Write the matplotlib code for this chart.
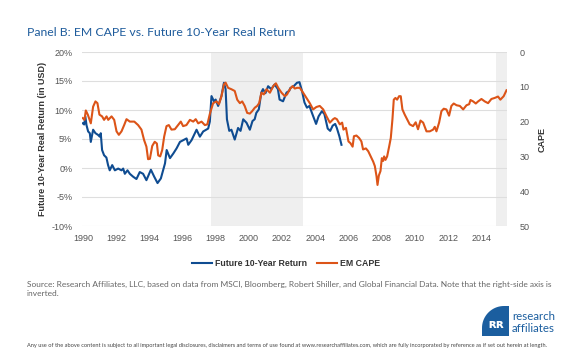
import numpy as np
import matplotlib
matplotlib.use("Agg")
import matplotlib.pyplot as plt
from matplotlib.patches import PathPatch
from matplotlib.path import Path
from matplotlib.ticker import FuncFormatter

# Future 10-year real return (left axis, %)
ret_years = [1990.0, 1990.08, 1990.15, 1990.22, 1990.32, 1990.42, 1990.48, 1990.62, 1990.76, 1990.92,
             1991.02, 1991.08, 1991.16, 1991.28, 1991.42, 1991.52, 1991.62, 1991.77, 1991.93, 1992.13,
             1992.33, 1992.43, 1992.53, 1992.69, 1992.83, 1993.03, 1993.23, 1993.43, 1993.63, 1993.83,
             1994.1, 1994.3, 1994.5, 1994.7, 1994.95, 1995.05, 1995.25, 1995.45, 1995.65, 1995.85,
             1996.05, 1996.25, 1996.35, 1996.55, 1996.85, 1997.05, 1997.25, 1997.55, 1997.65, 1997.75,
             1997.9, 1998.0, 1998.15, 1998.35, 1998.5, 1998.6, 1998.68, 1998.82, 1998.95, 1999.15,
             1999.35, 1999.5, 1999.66, 1999.86, 2000.06, 2000.22, 2000.35, 2000.45, 2000.6, 2000.75,
             2000.85, 2001.0, 2001.16, 2001.35, 2001.55, 2001.75, 2001.85, 2002.06, 2002.27, 2002.43,
             2002.5, 2002.7, 2002.9, 2003.05, 2003.2, 2003.35, 2003.5, 2003.65, 2003.8, 2004.05,
             2004.2, 2004.4, 2004.55, 2004.75, 2004.9, 2005.05, 2005.2, 2005.3, 2005.45, 2005.58]
ret_values = [7.7, 7.5, 8.9, 7.4, 6.3, 6.0, 4.5, 6.6, 6.0, 5.7,
              5.4, 6.0, 3.1, 2.2, 1.8, 0.5, -0.4, 0.5, -0.4, -0.1,
              -0.4, -0.1, -1.0, -0.4, -1.0, -1.5, -1.9, -0.7, -1.0, -2.1,
              -0.3, -1.5, -2.6, -1.8, 0.8, 3.1, 1.7, 2.5, 3.4, 4.5,
              4.8, 5.1, 4.0, 4.8, 6.6, 5.4, 6.3, 6.8, 8.0, 12.4,
              11.5, 11.8, 10.7, 12.4, 14.7, 13.6, 8.4, 6.4, 6.6, 4.9,
              6.9, 6.4, 8.4, 7.8, 6.6, 8.1, 8.4, 9.5, 10.1, 13.0,
              13.6, 12.9, 14.1, 13.6, 14.4, 13.6, 11.8, 11.5, 13.0, 13.3,
              13.8, 14.1, 14.7, 14.8, 13.3, 11.3, 10.4, 10.7, 9.5, 7.6,
              8.9, 9.8, 9.3, 6.8, 6.4, 7.3, 7.6, 6.9, 5.5, 4.0]

# EM CAPE (right axis, inverted)
cape_years = [1990.0, 1990.1, 1990.18, 1990.3, 1990.48, 1990.62, 1990.76, 1990.88, 1991.0, 1991.16,
              1991.28, 1991.43, 1991.53, 1991.73, 1991.89, 1992.03, 1992.17, 1992.33, 1992.49, 1992.63,
              1992.83, 1993.1, 1993.33, 1993.53, 1993.69, 1993.83, 1993.93, 1994.04, 1994.18, 1994.33,
              1994.46, 1994.54, 1994.66, 1994.78, 1994.9, 1995.04, 1995.18, 1995.34, 1995.54, 1995.74,
              1995.9, 1996.04, 1996.24, 1996.45, 1996.65, 1996.8, 1996.95, 1997.15, 1997.35, 1997.5,
              1997.65, 1997.85, 1998.05, 1998.2, 1998.35, 1998.5, 1998.6, 1998.75, 1998.95, 1999.15,
              1999.3, 1999.46, 1999.6, 1999.75, 1999.9, 2000.06, 2000.2, 2000.36, 2000.5, 2000.62,
              2000.76, 2000.9, 2001.06, 2001.27, 2001.47, 2001.63, 2001.77, 2001.97, 2002.17, 2002.3,
              2002.47, 2002.63, 2002.77, 2002.9, 2003.07, 2003.27, 2003.47, 2003.67, 2003.87, 2004.07,
              2004.27, 2004.48, 2004.68, 2004.88, 2005.08, 2005.18, 2005.3, 2005.48, 2005.62, 2005.7,
              2005.85, 2006.0, 2006.12, 2006.25, 2006.33, 2006.48, 2006.64, 2006.78, 2006.88, 2007.05,
              2007.19, 2007.34, 2007.49, 2007.59, 2007.69, 2007.75, 2007.83, 2007.93, 2008.01, 2008.09,
              2008.15, 2008.23, 2008.33, 2008.45, 2008.55, 2008.65, 2008.73, 2008.83, 2008.93, 2009.05,
              2009.15, 2009.25, 2009.39, 2009.53, 2009.69, 2009.89, 2010.05, 2010.19, 2010.34, 2010.5,
              2010.7, 2010.9, 2011.1, 2011.2, 2011.3, 2011.46, 2011.6, 2011.74, 2011.9, 2012.06,
              2012.2, 2012.34, 2012.51, 2012.71, 2012.91, 2013.11, 2013.27, 2013.35, 2013.51, 2013.67,
              2013.81, 2014.01, 2014.21, 2014.41, 2014.61, 2014.81, 2015.01, 2015.15, 2015.35, 2015.52]
cape_values = [19.0, 19.5, 16.8, 18.0, 20.5, 15.7, 14.2, 14.7, 18.0, 18.5,
               19.5, 18.5, 19.5, 18.5, 19.5, 22.8, 23.8, 22.8, 21.0, 19.3,
               20.0, 20.0, 21.0, 22.3, 25.3, 27.2, 30.8, 30.7, 27.0, 25.8,
               26.3, 29.7, 30.0, 28.2, 24.3, 21.3, 21.0, 22.3, 22.2, 21.0,
               20.0, 21.3, 21.0, 19.5, 20.0, 19.3, 20.5, 20.0, 21.0, 20.8,
               17.8, 14.7, 14.2, 15.0, 12.7, 9.3, 8.8, 10.3, 10.7, 11.2,
               13.7, 14.7, 14.2, 15.5, 17.5, 17.7, 17.0, 16.0, 15.5, 14.7,
               11.7, 12.2, 10.7, 11.7, 9.8, 9.0, 10.3, 11.7, 12.7, 12.2,
               10.7, 9.8, 10.5, 10.3, 10.3, 11.7, 13.2, 14.7, 16.5, 15.8,
               15.5, 16.5, 18.5, 20.3, 19.3, 19.0, 19.3, 20.8, 20.3, 22.3,
               21.8, 25.7, 26.2, 27.2, 24.2, 24.0, 24.7, 25.7, 28.0, 27.7,
               28.5, 30.0, 31.5, 32.8, 35.7, 38.2, 35.5, 34.2, 30.5, 31.3,
               30.0, 31.0, 30.0, 27.2, 24.7, 19.3, 13.7, 13.2, 13.7, 12.7,
               12.7, 16.5, 18.0, 19.3, 20.8, 21.3, 20.2, 22.2, 19.7, 20.3,
               22.8, 22.8, 22.3, 21.5, 22.8, 20.3, 17.0, 16.3, 16.5, 18.3,
               15.5, 14.8, 15.3, 15.5, 16.5, 15.3, 15.0, 13.8, 14.2, 14.8,
               14.2, 13.5, 14.2, 14.7, 13.5, 13.2, 12.8, 13.7, 12.7, 11.0]

shaded_periods = [(1997.7, 2003.25), (2014.9, 2015.6)]
year_ticks = list(range(1990, 2015, 2))
ret_ticks = [-10, -5, 0, 5, 10, 15, 20]
cape_ticks = [0, 10, 20, 30, 40, 50]

blue = "#0f4c91"
orange = "#dc5418"
grey_txt = "#555555"

plt.rcParams["font.family"] = ["Liberation Sans", "DejaVu Sans"]

fig = plt.figure(figsize=(5.8, 3.56), dpi=100)
ax = fig.add_axes([82 / 580, 1 - 226 / 356, 425 / 580, 174 / 356])
ax2 = ax.twinx()

for start, end in shaded_periods:
    ax.axvspan(start, end, color="#efefef", lw=0, zorder=0)

for t in ret_ticks:
    ax.axhline(t, color="#dedede", lw=0.8, zorder=1)

line_ret, = ax.plot(ret_years, ret_values, color=blue, lw=1.5, zorder=3)
line_cape, = ax2.plot(cape_years, cape_values, color=orange, lw=1.5, zorder=3)

ax.set_xlim(1989.95, 2015.55)
ax.set_ylim(-10, 20)
ax.set_yticks(ret_ticks)
ax.yaxis.set_major_formatter(FuncFormatter(lambda v, p: "%d%%" % v))
ax.set_xticks(year_ticks)
ax2.set_ylim(50, 0)
ax2.set_yticks(cape_ticks)

for a in (ax, ax2):
    for s in a.spines.values():
        s.set_visible(False)
    a.tick_params(length=0, labelsize=6.5, labelcolor=grey_txt)
ax.tick_params(axis="y", pad=7)
ax.tick_params(axis="x", pad=6)
ax2.tick_params(axis="y", pad=9)

ax.set_ylabel("Future 10-Year Real Return (in USD)", fontsize=6.5, fontweight="bold",
              color="#333333", labelpad=3)
ax2.set_ylabel("CAPE", fontsize=6.5, fontweight="bold", color="#333333", labelpad=6)

fig.text(27 / 580, 1 - 33 / 356, "Panel B: EM CAPE vs. Future 10-Year Real Return",
         fontsize=8.85, color="#1f5c9c", family="Lato", va="center", ha="left")

fig.legend([line_ret, line_cape], ["Future 10-Year Return", "EM CAPE"],
           loc="center", bbox_to_anchor=(286 / 580, 1 - 264 / 356), ncol=2, frameon=False,
           prop={"size": 6.3, "weight": "bold"}, handlelength=2.3, handletextpad=0.3,
           columnspacing=1.2, labelcolor="#333333")

fig.text(27 / 580, 1 - 281 / 356,
         "Source: Research Affiliates, LLC, based on data from MSCI, Bloomberg, Robert Shiller, "
         "and Global Financial Data. Note that the right-side axis is\ninverted.",
         fontsize=6.0, color="#666666", family="Lato", va="top", ha="left", linespacing=1.4)

fig.text(27 / 580, 1 - 346 / 356,
         "Any use of the above content is subject to all important legal disclosures, disclaimers "
         "and terms of use found at www.researchaffiliates.com, which are fully incorporated by "
         "reference as if set out herein at length.",
         fontsize=4.05, color="#444444", family="Lato", va="center", ha="left")

# logo block: rounded top-left corner
w, h, r = 0.27, 0.30, 0.22
x0, y0 = 4.82, 0.20
arc = np.linspace(np.pi, np.pi / 2, 20)
verts = [(x0, y0), (x0, y0 + h - r)]
verts += [(x0 + r + r * np.cos(a), y0 + h - r + r * np.sin(a)) for a in arc]
verts += [(x0 + w, y0 + h), (x0 + w, y0), (x0, y0)]
codes = [Path.MOVETO] + [Path.LINETO] * (len(verts) - 2) + [Path.CLOSEPOLY]
fig.patches.append(PathPatch(Path(verts, codes), transform=fig.dpi_scale_trans,
                             facecolor="#1b5e9f", edgecolor="none"))
fig.text((x0 + w * 0.55) / 5.8, (y0 + h * 0.4) / 3.56, "ʀʀ", fontsize=9, color="white",
         family="DejaVu Sans", fontweight="bold", ha="center", va="center")
fig.text(512 / 580, 1 - 316 / 356, "research", fontsize=8.3, color="#1b5e9f",
         family="Lato", ha="left", va="center")
fig.text(512 / 580, 1 - 329 / 356, "affiliates", fontsize=8.3, color="#1b5e9f",
         family="Lato", ha="left", va="center")

fig.savefig("out.png", dpi=100)
